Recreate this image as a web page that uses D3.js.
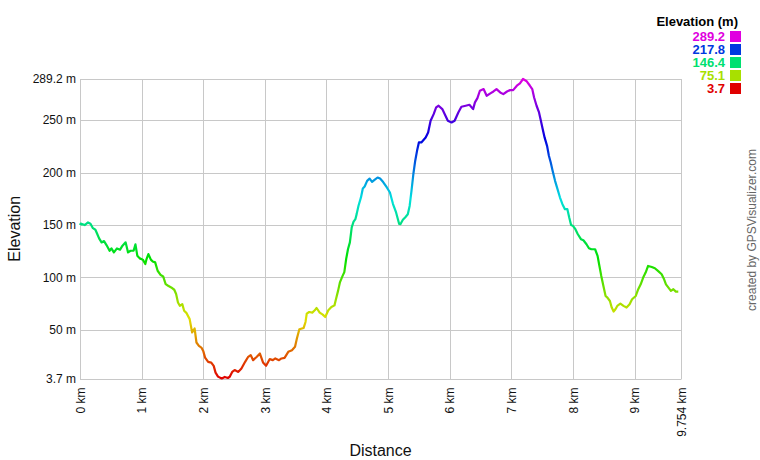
<!DOCTYPE html>
<html><head><meta charset="utf-8">
<script src="https://cdn.jsdelivr.net/npm/d3@7"></script>
<style>
body{margin:0;background:#fff;}
svg{display:block;font-family:"Liberation Sans",Arial,sans-serif;}
</style></head>
<body><svg id="c" width="760" height="460"></svg>
<script>
const distKm = [0,0.011,0.076,0.13,0.17,0.21,0.25,0.28,0.31,0.35,0.39,0.43,0.48,0.51,0.55,0.60,0.65,0.69,0.74,0.78,0.82,0.87,0.90,0.93,0.97,1.02,1.06,1.08,1.11,1.15,1.18,1.22,1.26,1.31,1.35,1.39,1.43,1.48,1.53,1.56,1.59,1.62,1.66,1.69,1.73,1.78,1.80,1.82,1.86,1.89,1.93,1.97,2.00,2.03,2.08,2.13,2.17,2.20,2.24,2.30,2.35,2.40,2.43,2.47,2.51,2.57,2.62,2.68,2.73,2.77,2.81,2.87,2.92,2.97,3.02,3.08,3.13,3.17,3.23,3.27,3.32,3.38,3.44,3.49,3.52,3.56,3.63,3.66,3.68,3.72,3.77,3.81,3.84,3.89,3.94,3.98,4.03,4.08,4.13,4.15,4.19,4.22,4.26,4.29,4.32,4.35,4.38,4.41,4.44,4.47,4.49,4.52,4.56,4.59,4.62,4.66,4.70,4.74,4.78,4.83,4.87,4.92,4.98,5.03,5.08,5.13,5.18,5.20,5.24,5.28,5.32,5.35,5.38,5.41,5.44,5.47,5.50,5.54,5.61,5.65,5.69,5.74,5.78,5.82,5.88,5.92,5.97,6.03,6.08,6.14,6.19,6.26,6.32,6.38,6.41,6.45,6.49,6.55,6.60,6.66,6.71,6.76,6.82,6.87,6.93,6.98,7.03,7.09,7.14,7.19,7.25,7.30,7.34,7.37,7.41,7.45,7.48,7.51,7.54,7.58,7.61,7.64,7.67,7.71,7.75,7.79,7.83,7.87,7.91,7.94,7.97,8.00,8.04,8.08,8.13,8.17,8.22,8.26,8.30,8.36,8.40,8.43,8.46,8.50,8.53,8.56,8.60,8.63,8.66,8.69,8.72,8.77,8.82,8.87,8.92,8.96,9.02,9.06,9.10,9.14,9.18,9.22,9.28,9.33,9.38,9.44,9.48,9.51,9.55,9.59,9.63,9.67,9.71,9.754];
const elevM = [150,151.3,150,152.5,151.3,147,145.5,141.4,137.3,133.4,134.7,130.9,125.5,127.7,123.9,127.7,126.5,130.3,133.5,123.9,125.5,125.5,131.6,120.8,118.2,117,112.8,117.6,122.3,117,115.3,114.4,106.4,102.3,101,93.7,92.1,90.5,88.3,84.2,76.2,73,74.6,68.3,66,60.3,53.9,47.6,51.4,38,34.8,33.2,30,23.6,19.5,18.9,15.7,9.3,5.5,3.7,5.2,4.2,5.4,10,11.7,10,13.3,19.6,24.4,26,21.2,24.4,27.5,19,15.8,22.2,21.2,22.8,21.2,22.8,23.4,29.1,30.7,33.9,41.8,50.6,51.9,57.6,65.5,67.1,66.5,68.7,70.9,66.5,64.6,62.3,68.7,71.8,73.4,78.2,87.7,95.6,101.3,105.1,117.7,127.2,133.5,147.8,153.2,155.7,160.4,168.4,176.3,184.8,186.7,192.1,194.3,191.1,193,195.3,194.3,191,185.8,181,170,162,151,150.8,155,157.5,160.2,168.2,182.5,198.4,211.1,220.7,228.7,228.7,233.4,238.2,249.4,255.7,262.1,263.7,260.5,255.7,249.4,247.8,249.4,257.3,262.7,263.7,264.6,260.5,266.9,271,278,279.6,273.2,275.5,277.3,279.6,276.4,274.8,277.3,278.6,278.6,282.8,285,289.2,287,283,279.6,271.6,263.7,257.3,249.4,241.4,233.5,225.5,216,209.6,201.7,192.1,184.2,176.2,169.9,165.1,165.1,157.1,150.1,149.2,146,141.2,136.5,135.5,131.7,127.9,126.9,126.9,120.6,111,101.5,90.4,82.4,80.8,77.6,71.3,67.5,69.7,72.9,75.1,72.9,71.3,74.5,79.2,82.4,88.8,93.5,99.9,104.7,111,110,108.8,106.3,103.1,98.3,93.5,90.4,87.2,88.8,86.5,86.5];
const yTicks = [3.7,50,100,150,200,250,289.2];
const yTickLabels = ["3.7 m","50 m","100 m","150 m","200 m","250 m","289.2 m"];
const xTicks = [0,1,2,3,4,5,6,7,8,9,9.754];
const xTickLabels = ["0 km","1 km","2 km","3 km","4 km","5 km","6 km","7 km","8 km","9 km","9.754 km"];
const legendValues = [289.2,217.8,146.4,75.1,3.7];
const legendLabels = ["289.2","217.8","146.4","75.1","3.7"];

(function(){
const eMin = 3.7, eMax = 289.2;
const pL = 80, pR = 681, pT = 79, pB = 378.5;
const svg = d3.select("#c");
const x = d3.scaleLinear().domain([0, 9.754]).range([pL, pR]);
const y = d3.scaleLinear().domain([eMin, eMax]).range([pB, pT]);
const col = e => d3.hsl(300 * (e - eMin) / (eMax - eMin), 1, 0.44).formatHex();
const grid = "#c8c8c8";

svg.append("g").selectAll("line").data(yTicks).join("line")
  .attr("x1", pL).attr("x2", pR).attr("y1", d => Math.round(y(d)) + 0.5).attr("y2", d => Math.round(y(d)) + 0.5)
  .attr("stroke", grid).attr("stroke-width", 1);
svg.append("g").selectAll("line").data(xTicks).join("line")
  .attr("y1", pT).attr("y2", pB + 1).attr("x1", d => Math.round(x(d)) + 0.5).attr("x2", d => Math.round(x(d)) + 0.5)
  .attr("stroke", grid).attr("stroke-width", 1);

svg.append("g").selectAll("text").data(yTicks).join("text")
  .attr("x", pL - 4).attr("y", d => y(d)).attr("dy", "0.35em")
  .attr("text-anchor", "end").attr("font-size", 12).attr("fill", "#111")
  .text((d, i) => yTickLabels[i]);
svg.append("g").selectAll("text").data(xTicks).join("text")
  .attr("transform", d => `translate(${x(d) + 0.5},${pB + 9}) rotate(-90)`)
  .attr("dy", "0.35em").attr("text-anchor", "end").attr("font-size", 12).attr("fill", "#111")
  .text((d, i) => xTickLabels[i]);

svg.append("text").attr("transform", `translate(20,${(pT + pB) / 2}) rotate(-90)`)
  .attr("text-anchor", "middle").attr("font-size", 16).attr("fill", "#111").text("Elevation");
svg.append("text").attr("x", (pL + pR) / 2).attr("y", 456)
  .attr("text-anchor", "middle").attr("font-size", 16).attr("fill", "#111").text("Distance");

const defs = svg.append("defs");
const grad = defs.append("linearGradient").attr("id", "eg").attr("gradientUnits", "userSpaceOnUse")
  .attr("x1", 0).attr("x2", 0).attr("y1", y(eMin)).attr("y2", y(eMax));
d3.range(0, 1.0001, 0.025).forEach(t => {
  grad.append("stop").attr("offset", t).attr("stop-color", col(eMin + t * (eMax - eMin)));
});
const pts = distKm.map((d, i) => [d, elevM[i]]);
svg.append("path").datum(pts)
  .attr("d", d3.line().x(d => x(d[0])).y(d => y(d[1])))
  .attr("fill", "none").attr("stroke", "url(#eg)").attr("stroke-width", 2.2)
  .attr("stroke-linejoin", "round");

svg.append("text").attr("x", 738).attr("y", 26).attr("text-anchor", "end")
  .attr("font-size", 13).attr("font-weight", "bold").attr("fill", "#000").text("Elevation (m)");
const lg = svg.append("g").selectAll("g").data(legendValues).join("g")
  .attr("transform", (d, i) => `translate(0,${41 + i * 13})`);
lg.append("text").attr("x", 725).attr("y", 0).attr("text-anchor", "end")
  .attr("font-size", 13).attr("font-weight", "bold").attr("fill", d => col(d)).text((d, i) => legendLabels[i]);
lg.append("rect").attr("x", 730).attr("y", -10).attr("width", 11).attr("height", 11).attr("fill", d => col(d));

svg.append("text").attr("transform", "translate(756,230) rotate(-90)")
  .attr("text-anchor", "middle").attr("font-size", 12).attr("fill", "#666").text("created by GPSVisualizer.com");
})();
</script></body></html>
